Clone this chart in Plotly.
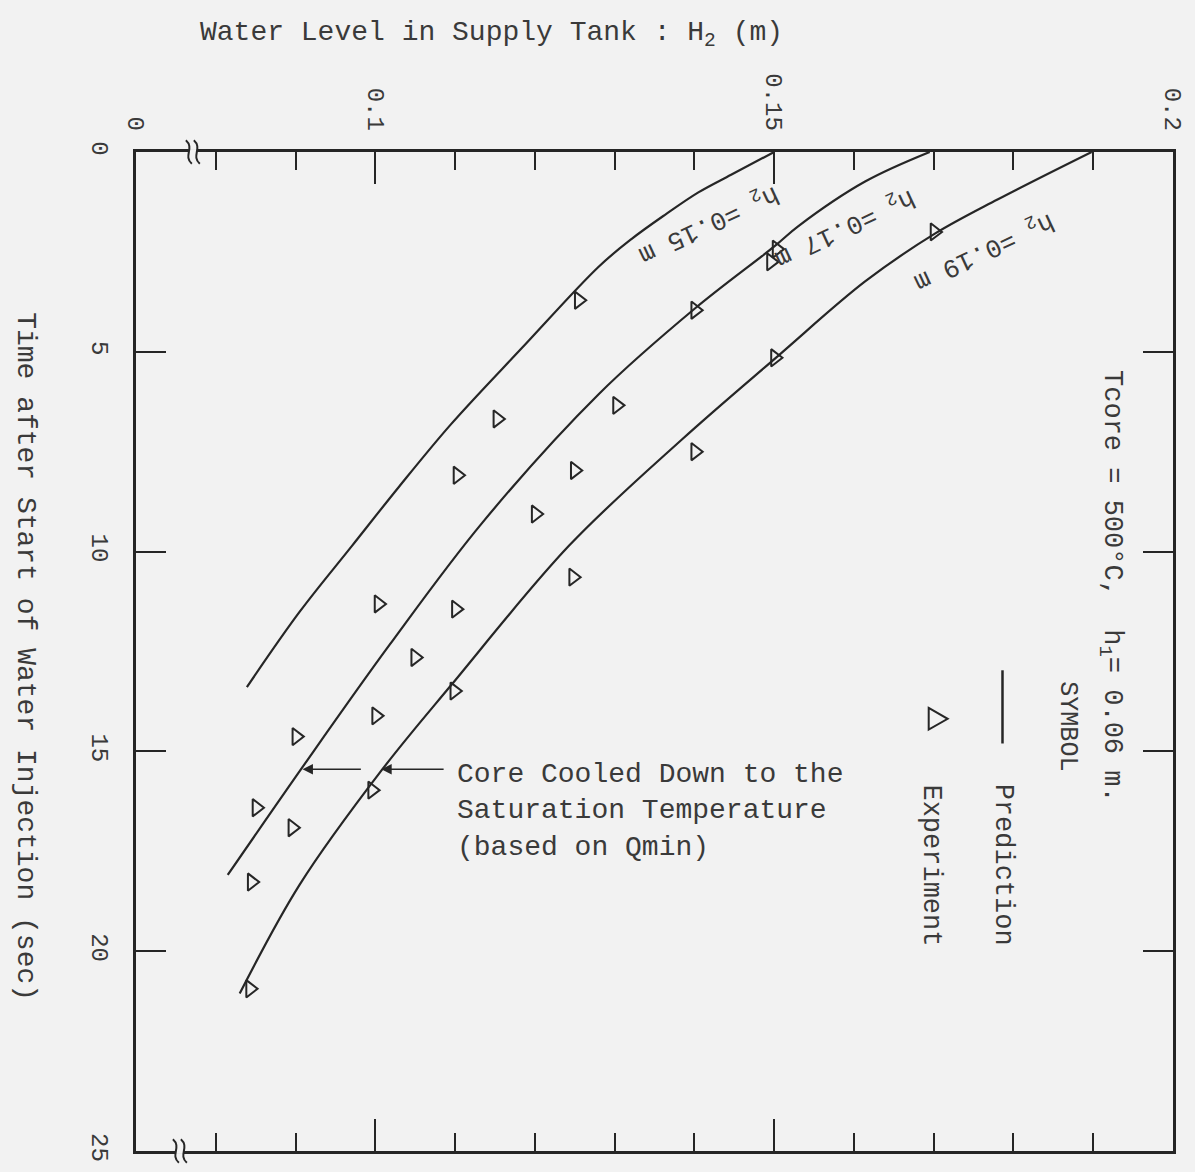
import plotly.graph_objects as go

# ---------------- data ----------------
# Prediction curves: time after start of water injection (s) vs water level H2 (m)
t_pred_015 = [0, 0.57, 1.01, 1.56, 2.18, 2.87, 4.90, 6.81, 8.37, 9.85, 11.51, 13.39]
h_pred_015 = [0.150, 0.1446, 0.1405, 0.1364, 0.1321, 0.1280, 0.1184, 0.1095, 0.1030, 0.0971, 0.0905, 0.0839]

t_pred_017 = [0, 0.74, 1.86, 2.35, 3.91, 6.06, 9.28, 12.33, 15.30, 18.09]
h_pred_017 = [0.1695, 0.1614, 0.1530, 0.1501, 0.1401, 0.1280, 0.1134, 0.1018, 0.0912, 0.0815]

t_pred_019 = [0, 1.19, 2.05, 3.24, 5.10, 7.20, 9.85, 13.32, 15.47, 18.34, 21.06]
h_pred_019 = [0.1898, 0.1780, 0.1701, 0.1614, 0.1505, 0.1384, 0.1243, 0.1096, 0.1008, 0.0905, 0.0830]

# Experiment points
t_exp = [2.00, 2.43, 2.75, 3.71, 3.96, 5.15, 6.34, 6.68, 7.50, 7.97, 8.09, 9.06,
         10.64, 11.31, 11.44, 12.65, 13.49, 14.11, 14.63, 15.97, 16.41, 16.91, 18.27, 20.94]
h_exp = [0.1701, 0.1503, 0.1496, 0.1255, 0.1401, 0.1501, 0.1303, 0.1153, 0.1401, 0.1250, 0.1103, 0.1201,
         0.1248, 0.1004, 0.1101, 0.1050, 0.1099, 0.1001, 0.0901, 0.0996, 0.0851, 0.0896, 0.0845, 0.0843]

# axis ticks
x_major_vals = [0.07, 0.10, 0.15, 0.20]
x_major_text = ["0", "0.1", "0.15", "0.2"]
x_minor_vals = [0.08, 0.09, 0.11, 0.12, 0.13, 0.14, 0.16, 0.17, 0.18, 0.19]
y_tick_vals = [0, 5, 10, 15, 20, 25]
y_tick_text = ["0", "5", "10", "15", "20", "25"]

curve_labels = ["h<sub>2</sub> =0.15 m", "h<sub>2</sub> =0.17 m", "h<sub>2</sub> =0.19 m"]

# ---------------- layout helpers ----------------
W, H = 1195, 1172
L, R, TOP, BOT = 136, 1176, 152, 1162
XR = [0.07, 0.20]
YR = [25, 0]
BG = "#f2f2f2"
INK = "#262626"
TXT = "#3a3a3a"
FONT = "Liberation Mono, Courier New, monospace"


def px(xp):
    return (xp - L) / (R - L)


def py(yp):
    return 1 - (yp - TOP) / (BOT - TOP)


def hx(xp):
    return XR[0] + (xp - L) * (XR[1] - XR[0]) / (R - L)


def ty(yp):
    return (yp - TOP) * 25 / (BOT - TOP)


fig = go.Figure()

line_style = dict(color=INK, width=2.2, shape="spline", smoothing=1.0)
for tt, hh, nm in [(t_pred_015, h_pred_015, "h2=0.15"),
                   (t_pred_017, h_pred_017, "h2=0.17"),
                   (t_pred_019, h_pred_019, "h2=0.19")]:
    fig.add_trace(go.Scatter(x=hh, y=tt, mode="lines", line=line_style,
                             name=nm, showlegend=False, hoverinfo="skip"))

fig.add_trace(go.Scatter(x=h_exp, y=t_exp, mode="markers",
                         marker=dict(symbol="triangle-right-open", size=15,
                                     color=INK, line=dict(width=2, color=INK)),
                         showlegend=False, name="Experiment"))

fig.update_layout(
    width=W, height=H, autosize=False,
    margin=dict(l=L, r=W - R, t=TOP, b=H - BOT),
    paper_bgcolor=BG, plot_bgcolor=BG,
    showlegend=False,
    font=dict(family=FONT, color=TXT),
)

fig.update_xaxes(
    range=XR, side="top", showgrid=False, zeroline=False,
    showline=True, linecolor=INK, linewidth=2.5, mirror="ticks",
    tickmode="array", tickvals=x_major_vals, ticktext=x_major_text,
    ticks="inside", ticklen=32, tickwidth=2, tickcolor=INK,
    tickangle=90, tickfont=dict(family=FONT, size=24, color=TXT),
    ticklabelstandoff=10,
    minor=dict(tickmode="array", tickvals=x_minor_vals, ticks="inside",
               ticklen=18, tickwidth=2, tickcolor=INK, showgrid=False),
)
fig.update_yaxes(
    range=YR, showgrid=False, zeroline=False,
    showline=True, linecolor=INK, linewidth=2.5, mirror="ticks",
    tickmode="array", tickvals=y_tick_vals, ticktext=y_tick_text,
    ticks="inside", ticklen=30, tickwidth=2, tickcolor=INK,
    tickangle=90, tickfont=dict(family=FONT, size=24, color=TXT),
    ticklabelstandoff=12,
)


def note(text, xp, yp, size=27, angle=0, xanchor="center", family=FONT, color=TXT, align="center"):
    return dict(text=text, x=px(xp), y=py(yp), xref="paper", yref="paper",
                xanchor=xanchor, yanchor="middle", align=align, textangle=angle,
                showarrow=False, font=dict(family=family, size=size, color=color))


ann = []
# axis titles
ann.append(note("Water Level in Supply Tank : H<sub>2</sub> (m)", 198, 33, size=28, xanchor="left"))
ann.append(note("Time after Start of Water Injection (sec)", 25, 662, size=28, angle=90))

# condition text and symbol legend
ann.append(note("Tcore = 500°C,  h<sub>1</sub>= 0.06 m.", 1113, 591, size=27, angle=90))
ann.append(note("SYMBOL", 1070, 733, size=25, angle=90))
ann.append(note("Prediction", 1005, 873, size=27, angle=90))
ann.append(note("Experiment", 933, 873, size=27, angle=90))

# curve labels
for lab, (cx, cy) in zip(curve_labels, [(710, 224), (846, 228), (986, 252)]):
    ann.append(note(lab, cx, cy, size=26, angle=155))

# "Core cooled down" note with arrows
ann.append(note("Core Cooled Down to the<br>Saturation Temperature<br>(based on Qmin)",
                456, 818, size=28, xanchor="left", align="left"))
for tip, tail in [(382, 446), (303, 363)]:
    ann.append(dict(text="", x=hx(tip), y=ty(776), ax=hx(tail), ay=ty(776),
                    xref="x", yref="y", axref="x", ayref="y", showarrow=True,
                    arrowhead=2, arrowsize=1.3, arrowwidth=1.6, arrowcolor=INK))
fig.update_layout(annotations=ann)


def P(xp, yp):
    return f"{px(xp):.5f},{py(yp):.5f}"


# legend keys: line sample and open right-pointing triangle
shapes = [dict(type="line", xref="paper", yref="paper", x0=px(1005), x1=px(1005),
               y0=py(676), y1=py(750), line=dict(color=INK, width=2.5)),
          dict(type="path", xref="paper", yref="paper",
               path=f"M {P(931, 714)} L {P(950, 725)} L {P(931, 736)} Z",
               line=dict(color=INK, width=2))]

# axis-break marks
for bx, by in [(193, TOP), (180, BOT)]:
    shapes.append(dict(type="rect", xref="paper", yref="paper", layer="above",
                       x0=px(bx - 4), x1=px(bx + 4), y0=py(by + 3), y1=py(by - 3),
                       fillcolor=BG, line=dict(width=0)))
    for off in (-4, 4):
        x = bx + off
        path = (f"M {P(x - 3, by - 12)} C {P(x + 6, by - 4)} {P(x - 6, by + 4)} {P(x + 3, by + 12)}")
        shapes.append(dict(type="path", path=path, xref="paper", yref="paper", layer="above",
                           line=dict(color=INK, width=2)))
fig.update_layout(shapes=shapes)

fig.write_html("out.html")
